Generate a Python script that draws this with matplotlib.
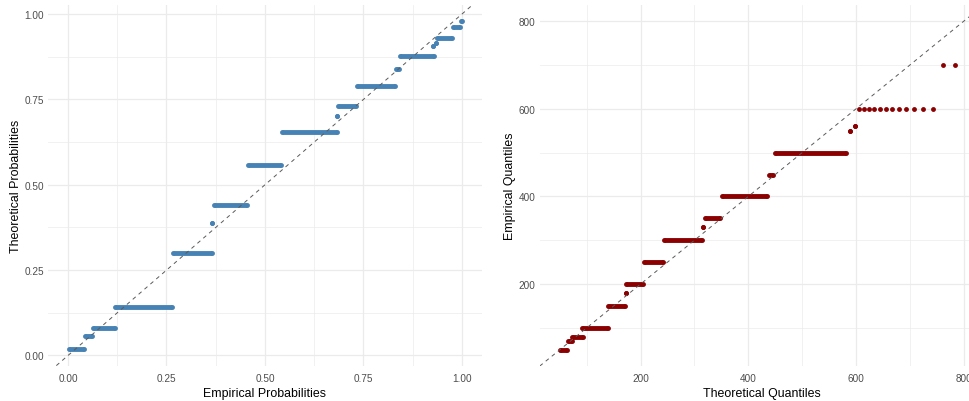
import numpy as np
import matplotlib.pyplot as plt
from matplotlib.ticker import MultipleLocator

plt.rcParams['font.family'] = ['Liberation Sans', 'DejaVu Sans']

# P-P plot, one entry per run of tied values:
# theoretical probability and first / last empirical probability of the run
pp_theoretical = [0.0184, 0.0565, 0.0819, 0.1413, 0.299, 0.3868, 0.4395, 0.5585, 0.654, 0.7008,
                  0.730, 0.7904, 0.840, 0.878, 0.907, 0.915, 0.931, 0.962, 0.9787]
pp_emp_start = [0.0025, 0.043, 0.0627, 0.1193, 0.2665, 0.3663, 0.3706, 0.457, 0.543, 0.6835,
                0.686, 0.7327, 0.8335, 0.8435, 0.927, 0.935, 0.9365, 0.976, 0.9967]
pp_emp_end = [0.0416, 0.0617, 0.1185, 0.2647, 0.3647, 0.3663, 0.4543, 0.5416, 0.682, 0.6835,
              0.732, 0.831, 0.841, 0.928, 0.927, 0.935, 0.974, 0.994, 1.0]

# Q-Q plot, runs of tied sample values: empirical value, first / last theoretical quantile
qq_empirical = [50, 70, 80, 100, 150, 180, 200, 250, 300, 330, 350, 400, 450, 500, 550, 560]
qq_theo_start = [50.2, 64.6, 73.0, 91.6, 138.7, 172.8, 173.3, 205.6, 243.3, 316.4, 319.6, 350.4,
                 438.4, 449.5, 589.5, 597.5]
qq_theo_end = [63.2, 72.8, 92.3, 138.8, 171.5, 172.8, 204.9, 241.5, 314.0, 316.4, 348.2, 434.7,
               446.6, 581.4, 589.5, 597.5]

# upper tail of the Q-Q plot, where single points are visible
qq_tail_theo = [605.6, 614.9, 624.2, 634.1, 644.1, 655.2, 666.9, 679.9, 693.5, 708.4, 724.5,
                742.5, 761.6, 783.9]
qq_tail_emp = [600] * 12 + [700] * 2

W, H = 969, 402
fig = plt.figure(figsize=(W / 100, H / 100), dpi=100)

ax1 = fig.add_axes([48.3 / W, (H - 366.6) / H, 433.4 / W, 360.7 / H])
ax2 = fig.add_axes([539.7 / W, (H - 367.1) / H, 444.1 / W, 361.2 / H])

dot_d = 3.5  # marker diameter in points


def draw_runs(ax, y, x0, x1, color):
    ax.hlines(y, x0, x1, colors=color, lw=dot_d, capstyle='butt', zorder=3)
    ax.scatter(x0, y, s=dot_d ** 2, color=color, linewidths=0, zorder=3)
    ax.scatter(x1, y, s=dot_d ** 2, color=color, linewidths=0, zorder=3)


draw_runs(ax1, pp_theoretical, pp_emp_start, pp_emp_end, '#4682B4')
draw_runs(ax2, qq_empirical, qq_theo_start, qq_theo_end, '#8B0000')
ax2.scatter(qq_tail_theo, qq_tail_emp, s=dot_d ** 2, color='#8B0000', linewidths=0, zorder=3)

for ax in (ax1, ax2):
    ax.axline((0, 0), slope=1, color='#5A5A5A', lw=0.7, linestyle=(0, (4, 4)), zorder=4)
    for s in ax.spines.values():
        s.set_visible(False)
    ax.set_axisbelow(True)
    ax.grid(which='major', color='#EBEBEB', lw=0.9)
    ax.grid(which='minor', color='#EBEBEB', lw=0.5)
    ax.tick_params(which='both', length=0, labelsize=7.2, labelcolor='#4D4D4D')
    ax.tick_params(axis='x', pad=5)
    ax.tick_params(axis='y', pad=3)

ax1.set_xlim(-0.05, 1.05)
ax1.set_ylim(-0.0296, 1.0267)
ax1.xaxis.set_major_locator(MultipleLocator(0.25))
ax1.xaxis.set_minor_locator(MultipleLocator(0.125))
ax1.yaxis.set_major_locator(MultipleLocator(0.25))
ax1.yaxis.set_minor_locator(MultipleLocator(0.125))
ax1.xaxis.set_major_formatter(lambda v, p: f'{v:.2f}')
ax1.yaxis.set_major_formatter(lambda v, p: f'{v:.2f}')
ax1.set_xlabel('Empirical Probabilities', fontsize=8.9, labelpad=3)
ax1.set_ylabel('Theoretical Probabilities', fontsize=8.9, labelpad=1.5)

ax2.set_xlim(12.5, 837.5)
ax2.set_ylim(12.5, 837.5)
ax2.xaxis.set_major_locator(MultipleLocator(200))
ax2.xaxis.set_minor_locator(MultipleLocator(100))
ax2.yaxis.set_major_locator(MultipleLocator(200))
ax2.yaxis.set_minor_locator(MultipleLocator(100))
ax2.set_xlabel('Theoretical Quantiles', fontsize=8.9, labelpad=3)
ax2.set_ylabel('Empirical Quantiles', fontsize=8.9, labelpad=2)

fig.savefig('out.png', dpi=100)
